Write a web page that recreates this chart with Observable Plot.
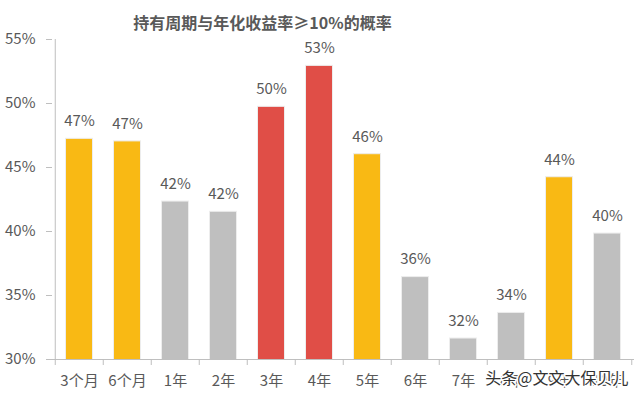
<!DOCTYPE html>
<html>
<head>
<meta charset="utf-8">
<script src="https://cdn.jsdelivr.net/npm/d3@7"></script>
<script src="https://cdn.jsdelivr.net/npm/@observablehq/plot@0.6"></script>
<style>
  html, body { margin: 0; padding: 0; background: #fff; }
  #chart svg { display: block; }
</style>
</head>
<body>
<div id="chart"></div>
<script>
const categories = ["3个月","6个月","1年","2年","3年","4年","5年","6年","7年","8年","9年","10年"];
const values = [47.2, 47.0, 42.3, 41.5, 49.7, 52.9, 46.0, 36.4, 31.6, 33.6, 44.2, 39.8];
const yTicks = [30, 35, 40, 45, 50, 55];
const title = "持有周期与年化收益率≥10%的概率";
const watermark = "头条@文文大保贝儿";

const data = categories.map((c, i) => ({category: c, value: values[i]}));

const barColors = {
  "3个月": "#F9B914", "6个月": "#F9B914", "5年": "#F9B914", "9年": "#F9B914",
  "3年": "#E04E47", "4年": "#E04E47"
};
const gray = "#BFBFBF";
const axisColor = "#BFBFBF";
const textColor = "#595959";

const width = 640, height = 402;
const mLeft = 52, mRight = 6, mTop = 39, mBottom = 43;
const step = (width - mLeft - mRight) / categories.length;
const font = "'Noto Sans CJK SC', 'Noto Sans', sans-serif";

const chart = Plot.plot({
  width, height,
  marginLeft: mLeft, marginRight: mRight, marginTop: mTop, marginBottom: mBottom,
  style: {fontFamily: font, background: "#fff", color: textColor, overflow: "visible"},
  x: {domain: categories, paddingInner: 0.46, paddingOuter: 0.23, axis: null, label: null},
  y: {domain: [30, 55], axis: null, label: null},
  marks: [
    Plot.barY(data, {
      x: "category", y1: () => 30, y2: "value",
      fill: d => barColors[d.category] || gray,
      stroke: "#EDEDED", strokeWidth: 1, inset: -0.5
    }),
    Plot.text(data, {
      x: "category", y: "value",
      text: d => Math.round(d.value) + "%",
      dy: -18, fontSize: 15, fill: textColor
    }),
    // axis lines
    Plot.ruleY([30], {stroke: axisColor, strokeWidth: 1}),
    Plot.ruleX([categories[0]], {y1: 30, y2: 55, dx: -step / 2, stroke: axisColor}),
    // y axis
    Plot.axisY({ticks: yTicks, tickSize: 6, tickPadding: 11, fontSize: 15, label: null,
      tickFormat: d => d + "%", stroke: axisColor, color: textColor, fill: textColor}),
    // x axis boundary ticks
    Plot.axisX({tickSize: 6, dx: -step / 2, tickFormat: () => "", stroke: axisColor, label: null}),
    Plot.axisX({ticks: [categories[categories.length - 1]], tickSize: 6, dx: step / 2, tickFormat: () => "", stroke: axisColor, label: null}),
    // x labels
    Plot.axisX({tickSize: 0, tickPadding: 16, fontSize: 15, fill: textColor, label: null}),
    // title
    Plot.text([title], {frameAnchor: "top", dx: -81, dy: -22, fontSize: 16, fontWeight: "bold", fill: textColor}),
    // watermark
    Plot.text([watermark], {frameAnchor: "bottom-right", textAnchor: "end", dx: -6, dy: 24,
      fontSize: 16, fill: "#333", stroke: "#fff", strokeWidth: 3, paintOrder: "stroke"})
  ]
});
document.getElementById("chart").append(chart);
</script>
</body>
</html>
